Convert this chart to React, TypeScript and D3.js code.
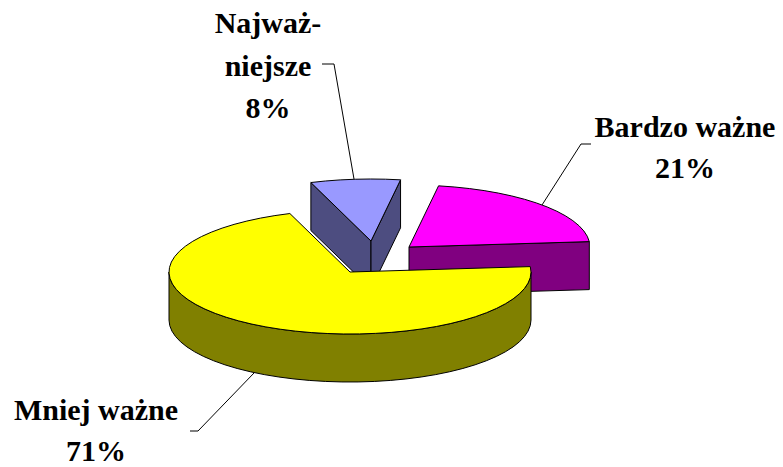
import React from "react";
import * as d3 from "d3";

const categories = ["Mniej ważne", "Najważniejsze", "Bardzo ważne"];
const percents = [71, 8, 21];
const topColors = ["#ffff00", "#9999ff", "#ff00ff"];
const sideColors = ["#808000", "#4d4d80", "#800080"];

const W = 783, H = 467;
const RX = 181, RY = 62, DEPTH = 48;
const START = (85 * Math.PI) / 180;
const apexes: [number, number][] = [[350, 272], [371, 241], [409, 247]];

const labels = [
  { lines: ["Mniej ważne", "71%"], x: 96, ys: [420, 461] },
  { lines: ["Najważ-", "niejsze", "8%"], x: 268, ys: [33, 76, 118] },
  { lines: ["Bardzo ważne", "21%"], x: 685, ys: [137, 178] },
];
const leaders: [number, number][][] = [
  [[190, 431], [198, 431], [254, 373]],
  [[322, 64], [334, 64], [354, 179]],
  [[591, 144], [581, 144], [542, 205]],
];

const slices = d3.pie<number>().sort(null).startAngle(START).endAngle(START + 2 * Math.PI)(percents);
const line = d3.line<[number, number]>();

function point(c: [number, number], a: number, dy = 0): [number, number] {
  return [c[0] + RX * Math.sin(a), c[1] - RY * Math.cos(a) + dy];
}
function arcPts(c: [number, number], a0: number, a1: number, dy = 0) {
  const n = Math.max(2, Math.ceil(Math.abs(a1 - a0) / 0.09));
  return d3.range(n + 1).map((i) => point(c, a0 + ((a1 - a0) * i) / n, dy));
}

export default function App() {
  const PI = Math.PI;
  return (
    <svg width={W} height={H} viewBox={`0 0 ${W} ${H}`} style={{ position: "absolute", left: 0, top: 0, background: "#fff" }}>
      {leaders.map((l, i) => (
        <path key={i} d={line(l) as string} fill="none" stroke="#000" strokeWidth={1} />
      ))}
      {[2, 1, 0].map((i) => {
        const s = slices[i];
        const c = apexes[i];
        const top = line([c, ...arcPts(c, s.startAngle, s.endAngle)]) + "Z";
        const walls: string[] = [];
        if (i === 0) {
          const a0 = PI / 2, a1 = (3 * PI) / 2;
          walls.push(line([...arcPts(c, a0, a1), ...arcPts(c, a1, a0, DEPTH)]) + "Z");
        } else {
          const below = (p: [number, number]): [number, number] => [p[0], p[1] + DEPTH];
          const endA = point(c, s.startAngle), endB = point(c, s.endAngle);
          if (i === 1) {
            walls.push(line([c, endA, below(endA), below(c)]) + "Z");
            walls.push(line([c, endB, below(endB), below(c)]) + "Z");
          } else {
            walls.push(line([c, endB, below(endB), below(c)]) + "Z");
          }
        }
        return (
          <g key={categories[i]} stroke="#000" strokeWidth={1} strokeLinejoin="round">
            {walls.map((d, k) => (
              <path key={k} d={d} fill={sideColors[i]} />
            ))}
            <path d={top} fill={topColors[i]} />
          </g>
        );
      })}
      {labels.map((l, i) => (
        <text key={i} textAnchor="middle" fontFamily="'Liberation Serif', serif" fontWeight="bold" fontSize={30} fill="#000">
          {l.lines.map((t, k) => (
            <tspan key={k} x={l.x} y={l.ys[k]}>{t}</tspan>
          ))}
        </text>
      ))}
    </svg>
  );
}
